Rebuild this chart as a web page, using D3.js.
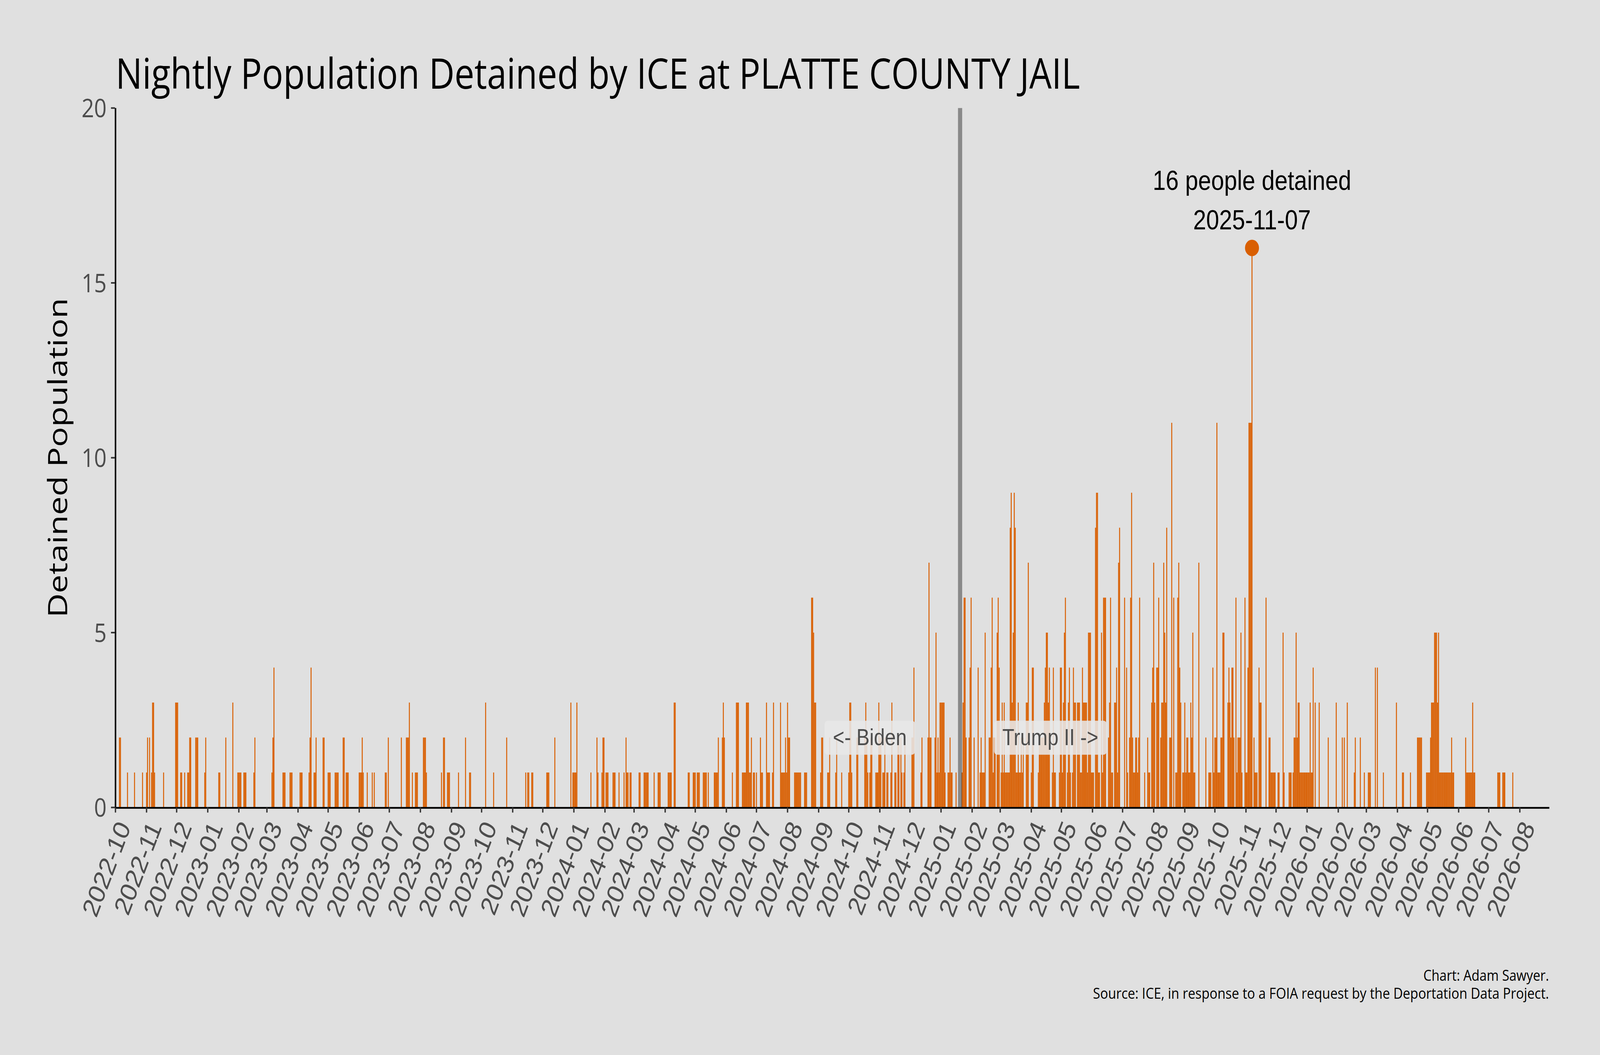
<!DOCTYPE html>
<html><head><meta charset="utf-8">
<script src="https://cdn.jsdelivr.net/npm/d3@7"></script>
<style>html,body{margin:0;padding:0;background:#e0e0e0;width:100%;height:100%;overflow:hidden;} svg{display:block;width:100vw;height:100vh;}</style>
</head><body><svg id="chart" viewBox="0 0 4800 2700" preserveAspectRatio="none"></svg>
<script>
// ---------------- data ----------------
const chartTitle = "Nightly Population Detained by ICE at PLATTE COUNTY JAIL";
const yAxisTitle = "Detained Population";
const captionLines = ["Chart: Adam Sawyer.", "Source: ICE, in response to a FOIA request by the Deportation Data Project."];
const yTicks = [0, 5, 10, 15, 20];
const xTickLabels = [
 "2022-10","2022-11","2022-12",
 "2023-01","2023-02","2023-03","2023-04","2023-05","2023-06","2023-07","2023-08","2023-09","2023-10","2023-11","2023-12",
 "2024-01","2024-02","2024-03","2024-04","2024-05","2024-06","2024-07","2024-08","2024-09","2024-10","2024-11","2024-12",
 "2025-01","2025-02","2025-03","2025-04","2025-05","2025-06","2025-07","2025-08","2025-09","2025-10","2025-11","2025-12",
 "2026-01","2026-02","2026-03","2026-04","2026-05","2026-06","2026-07","2026-08"];
const inaugurationDate = "2025-01-20";
const eraLabels = [
  {text: "<- Biden", offsetDays: -90, value: 2},
  {text: "Trump II ->", offsetDays: 90, value: 2}
];
// nightly counts: "MM-DD:value" or "MM-DD~DD:value" (range of days), days not listed = 0
const counts2022 = [
 "10-05~06:2","10-13:1","10-20:1","10-28:1",
 "11-01:1","11-02:2","11-04:2","11-06:1","11-07~08:3","11-09:1","11-18:1","11-30:3",
 "12-01~02:3","12-05~06:1","12-09:1","12-12~13:1","12-14~15:2","12-20~22:2","12-29:1","12-30:2"];
const counts2023 = [
 "01-12~13:1","01-19:2","01-26:3","01-31:1",
 "02-01~03:1","02-06~08:1","02-16:1","02-17:2",
 "03-06:1","03-07:2","03-08:4","03-17~19:1","03-24~26:1",
 "04-03~05:1","04-12:1","04-13:2","04-14:4","04-17~18:1","04-19:2","04-26~27:2",
 "05-01~03:1","05-08~11:1","05-16~17:2","05-19~21:1",
 "06-01~03:1","06-04:2","06-05:1","06-09:1","06-14:1","06-16:1","06-27~28:1","06-30:2",
 "07-13:2","07-18~20:2","07-21:3","07-24:1","07-27~29:1",
 "08-04~06:2","08-07:1","08-22:1","08-24~25:2","08-28~30:1",
 "09-08:1","09-15:2","09-19~20:1",
 "10-05:3","10-13:1","10-26:2",
 "11-14:1","11-16~17:1","11-20~21:1",
 "12-05~07:1","12-13:2","12-29:3","12-31:1"];
const counts2024 = [
 "01-01~03:1","01-04:3","01-18:1","01-24:2","01-25:1","01-29:1","01-30~31:2",
 "02-02~04:1","02-09~11:1","02-15:1","02-20:1","02-22:2","02-23~24:1","02-26~27:1",
 "03-06~07:1","03-11~15:1","03-21:1","03-25~27:1",
 "04-04~07:1","04-10~11:3","04-24~25:1","04-29~30:1",
 "05-01:1","05-03~05:1","05-09~12:1","05-14:1","05-20~23:1","05-24:2","05-28:2","05-29:3","05-30:2",
 "06-07:1","06-11~13:3","06-17~20:1","06-21~23:3","06-24~25:1","06-26:2","06-28~29:1",
 "07-01:1","07-05:2","07-06~07:1","07-11:3","07-12~14:1","07-17:1","07-18:3","07-25:3","07-26~29:1","07-30:2","07-31:1",
 "08-01:3","08-02~03:2","08-08~14:1","08-18~20:1","08-25~26:6","08-27:5","08-28~29:3",
 "09-03:1","09-04~05:2","09-10~11:1","09-12:2","09-18:1","09-19:2","09-24:1",
 "10-01:1","10-02~03:3","10-04:1","10-09~10:2","10-17:2","10-18:3","10-19:2","10-20:1","10-22:1","10-23~24:2","10-28~30:1","10-31:3",
 "11-01~02:2","11-04~05:1","11-06:2","11-08~09:1","11-12:1","11-13:3","11-16~17:1","11-19~20:2","11-22:2","11-23:1","11-25:1","11-26:2",
 "12-03~04:2","12-05:4","12-12:1","12-13:2","12-19:2","12-20:7","12-21~22:2","12-26:2","12-27:5","12-28:1","12-29:2","12-30:1","12-31:3"];
const counts2025 = [
 "01-01~04:3","01-05:1","01-08~09:1","01-10:2","01-11~12:1","01-16:1","01-22:1","01-23:3","01-24~25:6","01-26:2","01-29:2","01-30:4","01-31:6",
 "02-03:2","02-07:4","02-09:1","02-10:2","02-11~13:1","02-14:5","02-18~19:2","02-20:4","02-21:6","02-22:1","02-23~24:2","02-26:5","02-27:6","02-28:4",
 "03-02:1","03-03:3","03-04:1","03-05:3","03-06~10:1","03-11:8","03-12:9","03-13:3","03-14:5","03-15:9","03-16:8","03-17~18:1","03-19:3","03-20~21:1","03-22:2","03-23:1","03-24:2","03-27~28:3","03-29:7",
 "04-01:1","04-02~03:4","04-08:1","04-09~13:2","04-14:3","04-15:4","04-16~17:5","04-18:3","04-19:4","04-22:1","04-23:4","04-24~25:1","04-29:1","04-30:4",
 "05-01:4","05-02:1","05-03:3","05-04:5","05-05:6","05-07:1","05-08:3","05-09:4","05-10:1","05-12:1","05-13:4","05-14~15:3","05-17~19:3","05-20~21:1","05-22:4","05-23~26:3","05-27:1","05-28~30:5","05-31:1",
 "06-01~02:1","06-04:8","06-05~06:9","06-07~08:1","06-10:5","06-11:1","06-12~14:6","06-17:2","06-18:3","06-19:6","06-20~21:1","06-23~24:3","06-25:4","06-26:1","06-27:7","06-28:8",
 "07-03:6","07-05:4","07-06:1","07-08:2","07-09:6","07-10:9","07-11:2","07-12~13:1","07-14~15:2","07-16:1","07-17:2","07-18:6","07-23:1","07-26:2","07-27~28:1","07-30:3","07-31:4",
 "08-01:7","08-02:3","08-04~05:4","08-06:6","08-08:2","08-09~10:3","08-11:7","08-12:5","08-13:3","08-14:8","08-17~18:2","08-19:11","08-21:6","08-23~24:1","08-25:6","08-26:7","08-27:4","08-28:3","08-30~31:1",
 "09-01:3","09-02:1","09-03~04:2","09-05~06:1","09-07:3","09-08:2","09-09:5","09-10~11:1","09-15:7","09-22:2","09-25~27:1","09-29:4","09-30:1",
 "10-01~02:2","10-03:11","10-04~06:1","10-07~08:2","10-09~10:5","10-14:3","10-15:4","10-16:3","10-17:2","10-18~19:4","10-20:2","10-22:6","10-23:1","10-24~26:2","10-27:5","10-28:1","10-31:6",
 "11-01~02:1","11-03:4","11-04~06:11","11-07:16","11-09:2","11-10~12:1","11-14:4","11-15~16:3","11-21:6","11-24~25:2","11-26~30:1",
 "12-03~04:1","12-08:5","12-09:1","12-14~16:1","12-18:1","12-19~20:2","12-21:5","12-22:2","12-23~24:3","12-25~31:1"];
const counts2026 = [
 "01-01~03:1","01-04:3","01-05~06:1","01-07:4","01-09:3","01-13:3","01-22:2","01-30:3",
 "02-05:2","02-07:2","02-10:3","02-17:1","02-18:2","02-23:2","02-27:1",
 "03-03~05:1","03-10:4","03-12:4","03-18:1","03-31:3",
 "04-06~07:1","04-14:1","04-21~25:2","04-30:1",
 "05-01~03:1","05-04:2","05-05~07:3","05-08~10:5","05-11:3","05-12:5","05-13~24:1","05-25:2","05-26~27:1",
 "06-08:2","06-09~14:1","06-15:3","06-16~17:1",
 "07-10~12:1","07-15~17:1","07-25:1"];
const yearSeries = [[2022, counts2022], [2023, counts2023], [2024, counts2024], [2025, counts2025], [2026, counts2026]];

// ---------------- build rows ----------------
const rows = [];
yearSeries.forEach(([year, list]) => {
  list.forEach(entry => {
    const [key, v] = entry.split(":");
    const [md, endDay] = key.split("~");
    const [m, d] = md.split("-").map(Number);
    const last = endDay ? +endDay : d;
    for (let dd = d; dd <= last; dd++) rows.push({date: new Date(Date.UTC(year, m - 1, dd)), value: +v});
  });
});
const DAY = 864e5;
const parseDay = d3.utcParse("%Y-%m-%d");
const parseMonth = d3.utcParse("%Y-%m");

// ---------------- layout ----------------
const W = 4800, H = 2700;
const plot = {left: 345, right: 4648, bottom: 2066.5, top: 276.5};
const orange = "#D95F02";
const svg = d3.select("#chart");
svg.append("rect").attr("width", W).attr("height", H).attr("fill", "#e0e0e0");

const x = d3.scaleUtc()
  .domain([new Date(Date.UTC(2022, 8, 30, 13)), new Date(Date.UTC(2026, 7, 30, 10))])
  .range([plot.left, plot.right]);
const y = d3.scaleLinear().domain([0, 20]).range([plot.bottom, plot.top]);

// bars
svg.append("g").selectAll("rect").data(rows).join("rect")
  .attr("x", d => x(new Date(+d.date - 0.48 * DAY)))
  .attr("width", d => x(new Date(+d.date + 0.48 * DAY)) - x(new Date(+d.date - 0.48 * DAY)))
  .attr("y", d => y(d.value))
  .attr("height", d => y(0) - y(d.value))
  .attr("fill", orange);

// inauguration line
const inaug = parseDay(inaugurationDate);
svg.append("line")
  .attr("x1", x(inaug)).attr("x2", x(inaug))
  .attr("y1", y(0)).attr("y2", y(20))
  .attr("stroke", "#000").attr("stroke-opacity", 0.39).attr("stroke-width", 12.5);

// axes
const axisColor = "#333333";
svg.append("line").attr("x1", plot.left + 1.5).attr("x2", plot.left + 1.5)
  .attr("y1", y(0)).attr("y2", y(20)).attr("stroke", "#000").attr("stroke-width", 4.5);
svg.append("line").attr("x1", plot.left).attr("x2", plot.right)
  .attr("y1", y(0) + 1).attr("y2", y(0) + 1).attr("stroke", "#000").attr("stroke-width", 4.5);

const yAxisG = svg.append("g");
yTicks.forEach(t => {
  yAxisG.append("line").attr("x1", plot.left - 12).attr("x2", plot.left)
    .attr("y1", y(t)).attr("y2", y(t)).attr("stroke", axisColor).attr("stroke-width", 4);
  yAxisG.append("text").attr("x", plot.left - 25).attr("y", y(t) + 24)
    .attr("text-anchor", "end").attr("font-family", "'Open Sans', 'Noto Sans', sans-serif")
    .attr("font-size", 66).attr("fill", "#4d4d4d").text(t);
});

const xAxisG = svg.append("g");
xTickLabels.forEach(lbl => {
  const xp = x(parseMonth(lbl));
  xAxisG.append("line").attr("x1", xp).attr("x2", xp)
    .attr("y1", y(0)).attr("y2", y(0) + 13).attr("stroke", axisColor).attr("stroke-width", 4);
  xAxisG.append("text")
    .attr("transform", `translate(${xp + 47},${y(0) + 50}) rotate(-66)`)
    .attr("text-anchor", "end")
    .attr("font-family", "'Liberation Sans', Arial, sans-serif")
    .attr("font-size", 70).attr("fill", "#4d4d4d").text(lbl);
});

// era labels
eraLabels.forEach(l => {
  const cx = x(new Date(+inaug + l.offsetDays * DAY));
  const cy = y(l.value);
  const g = svg.append("g");
  const box = g.append("rect");
  const t = g.append("text").attr("x", cx).attr("y", cy + 20)
    .attr("text-anchor", "middle").attr("font-family", "'Liberation Sans', Arial, sans-serif")
    .attr("font-size", 59).attr("fill", "#4d4d4d").text(l.text);
  const w = t.node().getComputedTextLength();
  box.attr("x", cx - w / 2 - 25).attr("y", cy - 43).attr("width", w + 50).attr("height", 87)
    .attr("rx", 9).attr("fill", "rgb(231,231,231)").attr("fill-opacity", 0.88);
});

// peak annotation
const peak = rows.reduce((a, b) => (b.value > a.value ? b : a));
svg.append("circle").attr("cx", x(peak.date)).attr("cy", y(peak.value)).attr("r", 21).attr("fill", orange);
svg.append("text").attr("x", x(peak.date)).attr("y", y(peak.value) - 148)
  .attr("text-anchor", "middle").attr("font-family", "'Liberation Sans', Arial, sans-serif")
  .attr("font-size", 70).attr("fill", "#000").text(`${peak.value} people detained`);
svg.append("text").attr("x", x(peak.date)).attr("y", y(peak.value) - 47)
  .attr("text-anchor", "middle").attr("font-family", "'Liberation Sans', Arial, sans-serif")
  .attr("font-size", 70).attr("fill", "#000").text(d3.utcFormat("%Y-%m-%d")(peak.date));

// title
svg.append("text").attr("x", 347).attr("y", 227)
  .attr("font-family", "'Open Sans', 'Noto Sans', sans-serif").attr("font-size", 108)
  .attr("fill", "#000").attr("textLength", 2893).attr("lengthAdjust", "spacingAndGlyphs")
  .text(chartTitle);

// y axis title
svg.append("text").attr("transform", `translate(201,${(y(0) + y(20)) / 2}) rotate(-90)`)
  .attr("text-anchor", "middle").attr("font-family", "'Open Sans', 'Noto Sans', sans-serif")
  .attr("font-size", 80).attr("fill", "#000")
  .attr("textLength", 818).attr("lengthAdjust", "spacingAndGlyphs").text(yAxisTitle);

// caption
const capLengths = [377, 1368];
captionLines.forEach((c, i) => {
  svg.append("text").attr("x", 4647).attr("y", 2510 + i * 46)
    .attr("text-anchor", "end").attr("font-family", "'Open Sans', 'Noto Sans', sans-serif")
    .attr("font-size", 38).attr("fill", "#000")
    .attr("textLength", capLengths[i]).attr("lengthAdjust", "spacingAndGlyphs").text(c);
});
</script>
</body></html>
